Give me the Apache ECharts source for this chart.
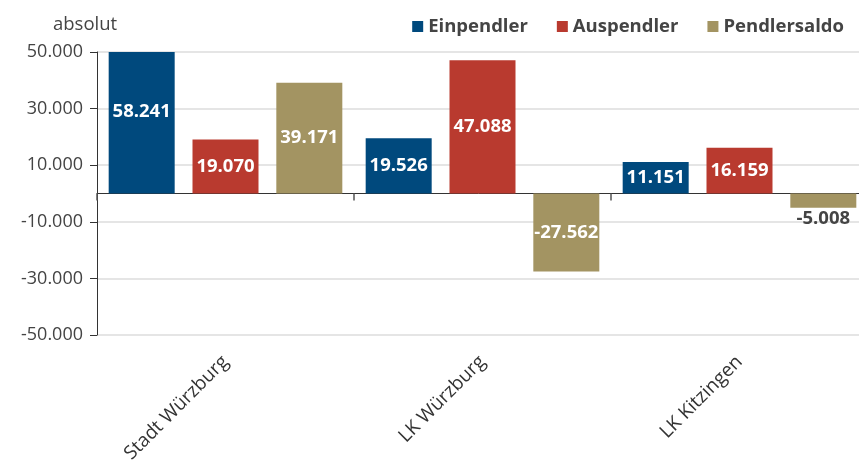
<!DOCTYPE html>
<html>
<head>
<meta charset="utf-8">
<script src="https://cdn.jsdelivr.net/npm/echarts@6/dist/echarts.min.js"></script>
<style>
  html, body { margin: 0; padding: 0; background: #fff; }
  #chart { width: 859px; height: 462px; }
</style>
</head>
<body>
<div id="chart"></div>
<script>
const categories = ['Stadt Würzburg', 'LK Würzburg', 'LK Kitzingen'];
const einpendler = [58241, 19526, 11151];
const auspendler = [19070, 47088, 16159];
const pendlersaldo = [39171, -27562, -5008];

const font = '"Open Sans", "Noto Sans", sans-serif';
const yMax = 50000;

// 12345 -> "12.345"
function fmt(v) {
    const s = String(Math.abs(Math.round(v))).replace(/\B(?=(\d{3})+(?!\d))/g, '.');
    return (v < 0 ? '-' : '') + s;
}

function barSeries(name, data, color) {
    return {
        name: name,
        type: 'bar',
        data: data.map(v => {
            const item = { value: v };
            if (v < 0 && v > -8000) {
                // short negative bar: label sits below it
                item.label = { position: 'bottom', color: '#444', distance: 2 };
            } else if (v > yMax) {
                // bar cut off at the top, label stays where the full bar would centre it
                item.label = { offset: [0, -11] };
            }
            return item;
        }),
        barWidth: 66,
        barGap: '27%',
        itemStyle: { color: color },
        label: {
            show: true,
            position: 'inside',
            color: '#fff',
            fontFamily: font,
            fontSize: 18.5,
            fontWeight: 'bold',
            formatter: p => fmt(p.value)
        }
    };
}

const chart = echarts.init(document.getElementById('chart'));
chart.setOption({
    animation: false,
    title: {
        text: 'absolut',
        left: 48,
        top: 10,
        textStyle: { fontFamily: font, fontSize: 18.5, fontWeight: 'normal', color: '#444' }
    },
    legend: {
        right: 10,
        top: 12,
        icon: 'rect',
        itemWidth: 11,
        itemHeight: 11,
        itemGap: 29,
        textStyle: { fontFamily: font, fontSize: 18.5, fontWeight: 'bold', color: '#444' },
        data: ['Einpendler', 'Auspendler', 'Pendlersaldo']
    },
    grid: { left: 97, top: 52, width: 771, height: 283, outerBoundsMode: 'none', containLabel: false },
    xAxis: [
        {
            type: 'category',
            data: categories,
            position: 'bottom',
            axisLine: { show: false, onZero: false },
            axisTick: { show: false },
            axisLabel: {
                rotate: 45,
                margin: 24,
                fontFamily: font,
                fontSize: 19,
                color: '#333'
            }
        },
        {
            type: 'category',
            data: categories,
            position: 'bottom',
            axisLine: { show: true, onZero: true, lineStyle: { color: '#333', width: 1 } },
            axisTick: { show: true, length: 7, lineStyle: { color: '#555', width: 1.5 } },
            axisLabel: { show: false }
        }
    ],
    yAxis: {
        type: 'value',
        min: -50000,
        max: yMax,
        interval: 20000,
        axisLine: { show: true, lineStyle: { color: '#333' } },
        axisTick: { show: true, length: 7, lineStyle: { color: '#333' } },
        splitLine: { lineStyle: { color: '#dcdcdc', width: 1.5 } },
        axisLabel: {
            margin: 14,
            fontFamily: font,
            fontSize: 18,
            color: '#444',
            formatter: v => fmt(v)
        }
    },
    series: [
        barSeries('Einpendler', einpendler, '#00497d'),
        barSeries('Auspendler', auspendler, '#b93a2f'),
        barSeries('Pendlersaldo', pendlersaldo, '#a39462')
    ]
});
</script>
</body>
</html>
